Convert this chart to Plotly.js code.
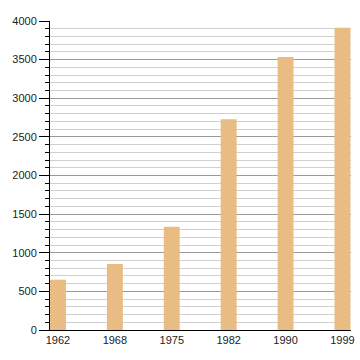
<!DOCTYPE html>
<html>
<head>
<meta charset="utf-8">
<script src="https://cdn.plot.ly/plotly-3.0.1.min.js"></script>
<style>html,body{margin:0;padding:0;background:#fff;}#chart{width:360px;height:360px;}</style>
</head>
<body>
<div id="chart"></div>
<script>
const years = ["1962", "1968", "1975", "1982", "1990", "1999"];
const population = [651, 854, 1337, 2727, 3534, 3912];

const data = [{
  type: 'bar',
  x: years,
  y: population,
  width: 0.28,
  marker: {color: '#E8BC82'},
  hoverinfo: 'x+y'
}];

const layout = {
  width: 360,
  height: 360,
  margin: {l: 50, r: 9, t: 21, b: 30},
  paper_bgcolor: '#fff',
  plot_bgcolor: '#fff',
  showlegend: false,
  font: {family: 'Liberation Sans, Arial, sans-serif', size: 11, color: '#222'},
  xaxis: {
    type: 'category',
    range: [-0.14, 5.15],
    showgrid: false,
    showline: true,
    linecolor: '#000',
    linewidth: 1,
    ticks: '',
    tickfont: {size: 11, color: '#222'},
    fixedrange: true
  },
  yaxis: {
    range: [0, 4000],
    dtick: 500,
    tick0: 0,
    showgrid: true,
    gridcolor: '#9a9a9a',
    gridwidth: 1,
    showline: true,
    linecolor: '#000',
    linewidth: 1,
    ticks: 'outside',
    ticklen: 10,
    tickcolor: '#000',
    tickfont: {size: 11, color: '#222'},
    zeroline: false,
    minor: {
      dtick: 100,
      ticks: 'outside',
      ticklen: 4,
      tickcolor: '#000',
      showgrid: true,
      gridcolor: '#d0d0d0',
      gridwidth: 1
    },
    fixedrange: true
  }
};

Plotly.newPlot('chart', data, layout, {displayModeBar: false, staticPlot: true});
</script>
</body>
</html>
